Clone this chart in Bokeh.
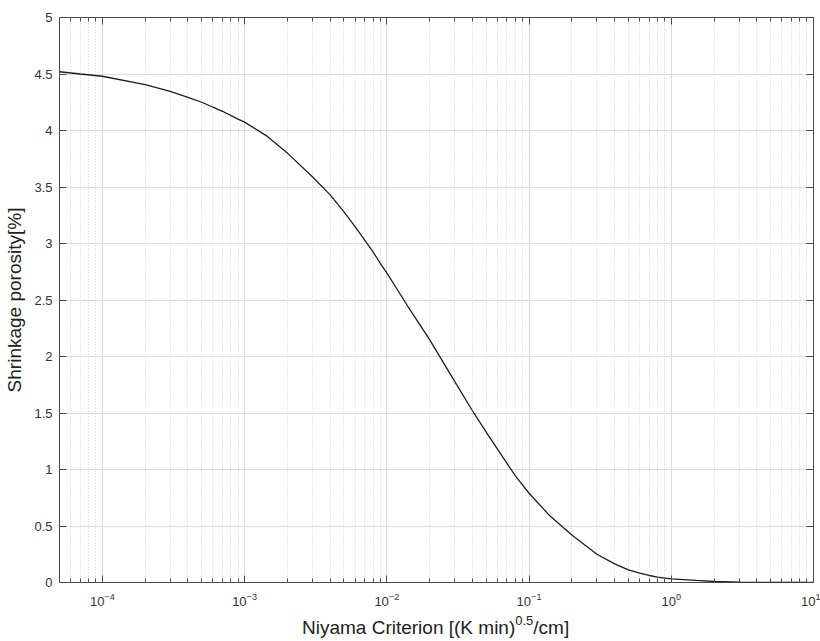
from bokeh.plotting import figure
from bokeh.models import (Range1d, FixedTicker, LogAxis, LinearAxis, Div,
                          CustomJSTickFormatter, LogTickFormatter)
from bokeh.layouts import column
from bokeh.embed import file_html
from bokeh.resources import INLINE

# ---- data ----
niyama = [5e-5, 7e-5, 1e-4, 2e-4, 3e-4, 4e-4, 5e-4, 6e-4, 7e-4, 9e-4,
          1e-3, 1.44e-3, 2e-3, 3e-3, 4e-3, 5e-3, 6e-3, 7e-3, 8e-3, 9e-3,
          1e-2, 1.38e-2, 2e-2, 3e-2, 4e-2, 5e-2, 6e-2, 7e-2, 8e-2, 0.1,
          0.14, 0.2, 0.3, 0.4, 0.5, 0.6, 0.7, 0.8, 1.0, 1.5,
          2.0, 3.1, 5.0, 10.0]
porosity = [4.52, 4.50, 4.48, 4.406, 4.347, 4.294, 4.25, 4.206, 4.17, 4.10,
            4.074, 3.95, 3.80, 3.59, 3.43, 3.28, 3.147, 3.03, 2.926, 2.825,
            2.74, 2.46, 2.15, 1.78, 1.52, 1.33, 1.18, 1.055, 0.945, 0.79,
            0.59, 0.42, 0.25, 0.165, 0.112, 0.083, 0.062, 0.047, 0.032, 0.018,
            0.009, 0.003, 0.001, 0.0]

x_decades = [1e-4, 1e-3, 1e-2, 1e-1, 1.0, 10.0]
y_ticks = [0, 0.5, 1, 1.5, 2, 2.5, 3, 3.5, 4, 4.5, 5]
y_tick_labels = ["0", "0.5", "1", "1.5", "2", "2.5", "3", "3.5", "4", "4.5", "5"]

x_label_main = "Niyama Criterion [(K min)"
x_label_sup = "0.5"
x_label_tail = "/cm]"
y_label = "Shrinkage porosity[%]"

FONT = "Liberation Sans"
AX = "#4a4a4a"
TXT = "#333333"

minor = [m * d for d in [1e-5] + x_decades for m in range(2, 10)]
xticker = FixedTicker(ticks=x_decades, minor_ticks=minor)
yticker = FixedTicker(ticks=y_ticks)

p = figure(width=820, height=615, x_axis_type="log",
           x_range=Range1d(5e-5, 10), y_range=Range1d(0, 5),
           output_backend="svg", toolbar_location=None,
           min_border_left=59, min_border_right=7, min_border_top=17,
           min_border_bottom=33)
p.background_fill_color = "white"
p.border_fill_color = "white"
p.outline_line_color = AX
p.outline_line_width = 1

p.line(niyama, porosity, line_color="#1e1e1e", line_width=1.3)

def style_axis(ax):
    ax.axis_line_color = None
    ax.major_tick_in = 7
    ax.major_tick_out = 0
    ax.minor_tick_in = 4
    ax.minor_tick_out = 0
    ax.major_tick_line_color = AX
    ax.minor_tick_line_color = AX
    ax.major_label_text_font = FONT
    ax.major_label_text_font_size = "13px"
    ax.major_label_text_color = TXT
    ax.axis_label_text_font = FONT
    ax.axis_label_text_font_style = "normal"
    ax.axis_label_text_font_size = "19px"
    ax.axis_label_text_color = "#222222"

xa = p.xaxis[0]
xa.ticker = xticker
xa.formatter = LogTickFormatter()
style_axis(xa)
xa.major_label_standoff = 10

ya = p.yaxis[0]
ya.ticker = yticker
ya.major_label_overrides = {float(t): s for t, s in zip(y_ticks, y_tick_labels)}
style_axis(ya)
ya.minor_tick_line_color = None
ya.major_label_standoff = 7
ya.axis_label = y_label
ya.axis_label_standoff = 6

empty = CustomJSTickFormatter(code="return ''")
top = LogAxis(ticker=xticker, formatter=empty)
style_axis(top)
top.major_label_text_font_size = "1px"
top.major_label_standoff = 0
p.add_layout(top, "above")

right = LinearAxis(ticker=yticker, formatter=empty)
style_axis(right)
right.minor_tick_line_color = None
right.major_label_text_font_size = "1px"
right.major_label_standoff = 0
p.add_layout(right, "right")

p.xgrid.ticker = xticker
p.xgrid.grid_line_color = "#dcdcdc"
p.xgrid.minor_grid_line_color = "#cfcfcf"
p.xgrid.minor_grid_line_dash = "1 2"
p.ygrid.ticker = yticker
p.ygrid.grid_line_color = "#dcdcdc"

# x-axis title with a real superscript
title_html = (
    f'<div style="padding-left:302px; padding-top:2px; font-family:\'{FONT}\'; '
    f'font-size:19px; line-height:22px; color:#222222; white-space:nowrap;">'
    f'{x_label_main}<span style="font-size:13px; vertical-align:9px; line-height:0;">'
    f'{x_label_sup}</span>{x_label_tail}</div>'
)
xtitle = Div(text=title_html, width=820, height=26, margin=(0, 0, 0, 0))

layout = column(p, xtitle, spacing=0)
open("out.html", "w").write(file_html(layout, INLINE))
